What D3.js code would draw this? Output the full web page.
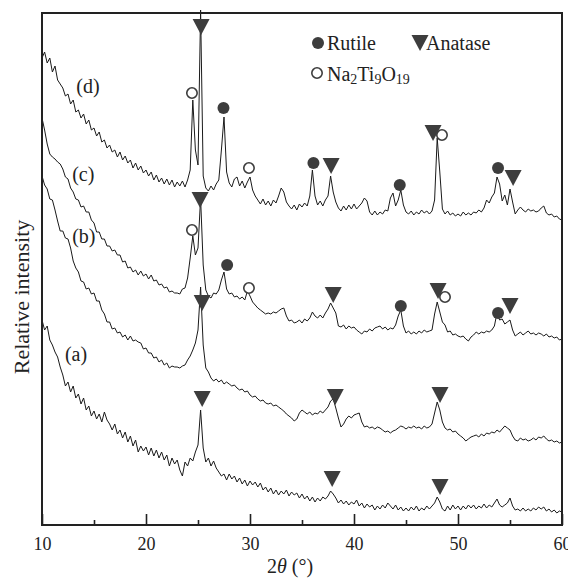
<!DOCTYPE html>
<html>
<head>
<meta charset="utf-8">
<script src="https://cdn.jsdelivr.net/npm/d3@7"></script>
<style>
  body { margin: 0; background: #fff; }
  text { font-family: "Liberation Serif", "Times New Roman", serif; fill: #222; }
</style>
</head>
<body>
<div id="xrd"></div>
<script>
// XRD patterns, 2theta grid 10..60 in 0.25 deg steps (a.u.)
var thetaStart = 10;
var thetaStep = 0.25;

var traceD = [
  467,473,462,467,453,459,445,441,437,429,431,421,425,413,415,407,411,401,405,395,
  397,389,393,383,385,377,380,373,375,368,373,365,369,362,365,357,362,355,359,352,
  355,349,353,345,350,343,347,341,346,340,345,338,343,339,344,338,345,355,425,375,
  360,515,349,337,334,339,335,341,345,375,408,353,342,338,346,348,339,344,337,343,
  348,335,329,325,321,326,320,324,319,325,322,329,337,333,323,319,316,320,315,321,
  318,322,319,329,355,329,320,324,319,325,329,349,333,323,317,314,319,315,320,316,
  321,316,319,322,327,324,313,310,314,310,313,311,315,314,327,332,319,325,335,320,
  313,311,314,310,313,311,315,312,314,311,314,325,387,353,316,311,314,310,312,309,
  311,309,313,310,312,310,313,312,315,313,317,325,322,328,332,348,341,324,330,320,
  336,323,311,315,318,315,313,316,314,315,313,314,317,319,312,310,311,308,309,306,
  305
];

var traceC = [
  407,395,381,371,368,366,363,361,356,348,346,337,333,326,325,318,319,313,313,305,
  302,293,293,286,286,279,279,274,275,270,270,263,264,257,258,253,255,250,254,249,
  251,246,250,244,245,240,241,237,238,233,234,232,232,231,236,237,247,267,289,270,
  277,327,260,235,229,227,232,231,235,245,253,236,231,232,228,229,226,228,225,234,
  229,223,220,217,215,213,211,212,211,213,212,214,216,217,209,204,205,202,203,205,
  202,206,204,207,213,209,207,210,207,212,216,222,217,212,199,198,200,196,199,197,
  198,195,193,191,194,193,196,194,197,198,199,196,198,195,197,196,200,209,215,199,
  192,194,191,193,191,194,192,195,193,194,195,211,223,213,203,200,193,194,190,191,
  189,188,189,186,184,188,190,193,191,193,192,194,193,195,199,212,205,206,201,203,
  205,195,189,191,193,190,192,194,191,192,190,192,191,189,191,188,189,187,188,185,
  186
];

var traceB = [
  349,340,336,326,325,315,304,294,294,287,286,277,264,257,253,244,243,236,237,231,
  232,224,224,215,211,203,203,196,197,192,193,188,190,185,189,184,185,183,182,176,
  177,172,172,167,168,163,165,160,162,157,159,158,158,157,159,160,165,169,175,182,
  195,238,180,157,153,147,144,146,143,145,141,143,141,139,140,137,135,136,133,134,
  130,128,129,126,124,125,122,121,122,119,120,118,116,114,111,109,107,104,106,112,
  115,113,111,113,110,112,111,114,112,115,118,124,126,117,107,98,101,106,109,107,
  110,111,112,103,98,99,97,98,96,98,97,95,93,94,92,94,95,97,99,98,
  96,98,97,99,97,98,96,99,97,98,101,112,123,115,103,97,95,96,93,94,
  91,89,87,84,86,88,89,90,88,91,89,92,91,93,92,95,93,96,99,97,
  95,89,85,84,87,85,86,84,85,87,85,88,87,89,86,84,85,83,84,82,
  83
];

var traceA = [
  205,195,199,185,180,173,168,158,150,139,143,133,139,127,131,121,127,115,119,109,
  114,106,111,103,113,105,101,95,101,91,95,87,93,83,89,79,85,73,79,74,
  78,70,77,69,75,67,73,65,70,59,67,61,65,55,49,63,59,67,64,73,
  80,115,77,63,67,59,64,57,53,49,51,45,51,46,49,43,47,41,45,39,
  44,40,43,38,42,35,38,33,37,31,35,30,34,31,35,29,33,30,32,27,
  31,26,29,24,28,23,27,24,28,26,29,34,31,27,22,25,21,24,20,23,
  21,25,19,22,17,21,18,20,15,19,16,20,17,22,19,16,20,15,18,14,
  17,14,18,15,19,14,17,15,19,16,19,22,28,23,16,14,19,15,20,16,
  19,15,19,16,20,17,20,16,19,17,21,17,20,18,22,26,20,18,20,22,
  27,19,15,16,14,17,14,16,14,17,15,18,16,18,14,16,13,15,12,14,
  13
];

// curve labels: [name, 2theta, intensity]
var traceLabels = [["(d)", 13.3, 432], ["(c)", 12.9, 344], ["(b)", 12.9, 282], ["(a)", 12.2, 164]];

// phase markers: [2theta, intensity]
var rutileMarks = [[27.45, 417], [36.1, 362], [44.4, 340], [53.85, 357],
                   [27.8, 260], [44.5, 219], [53.85, 212]];
var naMarks = [[24.42, 432], [29.9, 357], [48.46, 390],
               [24.42, 295], [29.9, 237], [48.75, 228]];
var anataseMarks = [[25.3, 498], [37.8, 359], [47.6, 392], [55.3, 347],
                    [25.2, 325], [38.0, 230], [48.08, 234], [55.0, 219],
                    [25.4, 222], [38.2, 128], [48.27, 130],
                    [25.4, 126], [37.9, 46], [48.27, 38]];

var majorTicks = [10, 20, 30, 40, 50, 60];
var minorTicks = [15, 25, 35, 45, 55];

// chart geometry
var width = 568, height = 578;
var plotLeft = 42, plotRight = 562, plotTop = 13, plotBottom = 525;
var markColor = "#3d3d3d";

var svg = d3.select("#xrd").append("svg")
  .attr("width", width)
  .attr("height", height);

var x = d3.scaleLinear().domain([10, 60]).range([plotLeft, plotRight]);
var y = d3.scaleLinear().domain([0, 512]).range([plotBottom, plotTop]);

var line = d3.line()
  .x(function(d, i) { return x(thetaStart + i * thetaStep); })
  .y(function(d) { return y(d); });

[traceA, traceB, traceC, traceD].forEach(function(tr) {
  svg.append("path")
    .datum(tr)
    .attr("fill", "none")
    .attr("stroke", "#1a1a1a")
    .attr("stroke-width", 1)
    .attr("stroke-linejoin", "round")
    .attr("d", line);
});

// axes, ticks inside
var xAxis = svg.append("g")
  .attr("transform", "translate(0," + plotBottom + ")")
  .call(d3.axisBottom(x).tickValues(majorTicks).tickSize(-11).tickPadding(12).tickFormat(d3.format("d")));
var xMinor = svg.append("g")
  .attr("transform", "translate(0," + plotBottom + ")")
  .call(d3.axisBottom(x).tickValues(minorTicks).tickSize(-5).tickFormat(""));
[xAxis, xMinor].forEach(function(g) {
  g.select(".domain").remove();
  g.selectAll("line").attr("stroke", "#222").attr("stroke-width", 1.6);
});
xAxis.selectAll("text")
  .attr("font-size", 18)
  .attr("fill", "#222")
  .style("font-family", "'Liberation Serif', serif");

// frame
svg.append("rect")
  .attr("x", plotLeft).attr("y", plotTop)
  .attr("width", plotRight - plotLeft).attr("height", plotBottom - plotTop)
  .attr("fill", "none")
  .attr("stroke", "#222")
  .attr("stroke-width", 2);

// markers
function triPath(cx, cy, w, h) {
  return "M" + (cx - w / 2) + "," + (cy - h / 2) + "L" + (cx + w / 2) + "," + (cy - h / 2) +
    "L" + cx + "," + (cy + h / 2) + "Z";
}

svg.selectAll(".rutile")
  .data(rutileMarks)
  .enter().append("circle")
  .attr("class", "rutile")
  .attr("cx", function(d) { return x(d[0]); })
  .attr("cy", function(d) { return y(d[1]); })
  .attr("r", 6)
  .attr("fill", markColor);

svg.selectAll(".na")
  .data(naMarks)
  .enter().append("circle")
  .attr("class", "na")
  .attr("cx", function(d) { return x(d[0]); })
  .attr("cy", function(d) { return y(d[1]); })
  .attr("r", 5.2)
  .attr("fill", "#fff")
  .attr("stroke", markColor)
  .attr("stroke-width", 1.6);

svg.selectAll(".anatase")
  .data(anataseMarks)
  .enter().append("path")
  .attr("class", "anatase")
  .attr("d", function(d) { return triPath(x(d[0]), y(d[1]), 17, 16); })
  .attr("fill", markColor);

// curve labels
svg.selectAll(".tlabel")
  .data(traceLabels)
  .enter().append("text")
  .attr("class", "tlabel")
  .attr("x", function(d) { return x(d[1]); })
  .attr("y", function(d) { return y(d[2]); })
  .attr("font-size", 20)
  .text(function(d) { return d[0]; });

// legend
svg.append("circle").attr("cx", 318).attr("cy", 43).attr("r", 6).attr("fill", markColor);
svg.append("text").attr("x", 327).attr("y", 50).attr("font-size", 20).text("Rutile");
svg.append("path").attr("d", triPath(420, 43, 17, 16)).attr("fill", markColor);
svg.append("text").attr("x", 426).attr("y", 50).attr("font-size", 20).text("Anatase");
svg.append("circle").attr("cx", 317).attr("cy", 73).attr("r", 5.2)
  .attr("fill", "#fff").attr("stroke", markColor).attr("stroke-width", 1.6);
var naText = svg.append("text").attr("x", 327).attr("y", 81).attr("font-size", 20);
naText.append("tspan").text("Na");
naText.append("tspan").attr("font-size", 14).attr("dy", 3).text("2");
naText.append("tspan").attr("dy", -3).text("Ti");
naText.append("tspan").attr("font-size", 14).attr("dy", 3).text("9");
naText.append("tspan").attr("dy", -3).text("O");
naText.append("tspan").attr("font-size", 14).attr("dy", 3).text("19");

// axis titles
var xTitle = svg.append("text")
  .attr("x", 290).attr("y", 573)
  .attr("text-anchor", "middle")
  .attr("font-size", 20);
xTitle.append("tspan").text("2");
xTitle.append("tspan").attr("font-style", "italic").text("\u03b8");
xTitle.append("tspan").text(" (\u00b0)");

svg.append("text")
  .attr("transform", "translate(29,297)rotate(-90)")
  .attr("text-anchor", "middle")
  .attr("font-size", 22)
  .text("Relative intensity");
</script>
</body>
</html>
